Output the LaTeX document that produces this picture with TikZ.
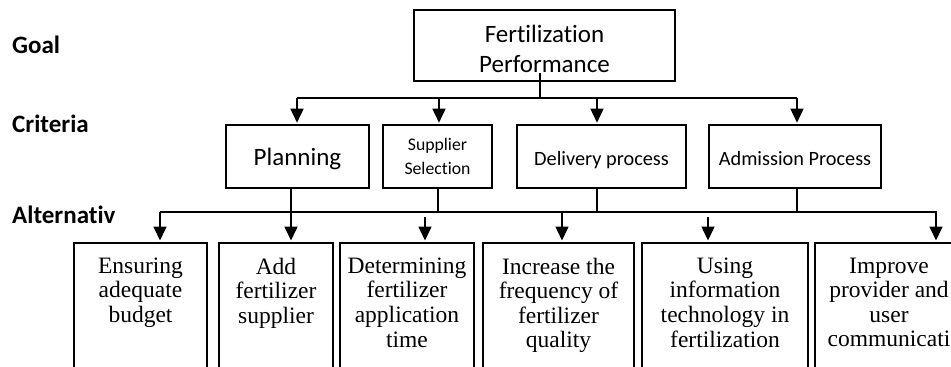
\documentclass[tikz,border=0pt]{standalone}
\usepackage{fontspec}
\setmainfont{Liberation Serif}
\newfontfamily\calib[Ligatures=NoCommon]{Carlito}
\usetikzlibrary{arrows.meta}
\tikzset{
  conn/.style={line width=1.6pt, draw=black},
  arr/.style={conn, -{Triangle[length=14pt,width=13pt]}, shorten >=1.5pt},
  boxst/.style={draw=black, line width=1.6pt, rectangle, inner sep=0pt},
  critbox/.style={boxst, minimum height=63pt, font=\calib\fontsize{20.3}{24}\selectfont, text height=18pt, text depth=0pt},
  altbox/.style={boxst, anchor=north, minimum height=140pt},
  alttext/.style={anchor=north, align=center, inner sep=0pt, font=\fontsize{23.5}{24.6}\selectfont},
  levellabel/.style={anchor=base west, inner sep=0pt, font=\calib\bfseries\fontsize{25}{30}\selectfont},
}
\begin{document}
\begin{tikzpicture}[x=1pt,y=-1pt]
\useasboundingbox (0,0) rectangle (951,367);
\clip (0,0) rectangle (951,367);
\fill[white] (0,0) rectangle (951,367);

% level labels
\node[levellabel] (lgoal) at (12,53) {Goal};
\node[levellabel] (lcrit) at (12,132) {Criteria};
\node[levellabel] (lalt) at (12,223) {Alternativ};

% goal
\node[boxst, minimum width=261pt, minimum height=71pt, align=center,
      font=\calib\fontsize{25}{30}\selectfont] (goal) at (544.5,45.5)
      {\rule{0pt}{25pt}Fertilization\\Performance};

% criteria
\node[critbox, minimum width=143pt, font=\calib\fontsize{25}{30}\selectfont] (plan) at (297.5,156.5) {Planning};
\node[boxst, minimum width=109pt, minimum height=63pt, align=center,
      font=\calib\fontsize{17.7}{24}\selectfont] (supp) at (437.5,156.5) {Supplier\\Selection};
\node[critbox, minimum width=169pt] (deliv) at (601.5,156.5) {Delivery process};
\node[critbox, minimum width=172pt] (admis) at (795,156.5) {Admission Process};

% alternatives boxes
\node[altbox, minimum width=133pt] (alt1) at (140.5,242) {};
\node[altbox, minimum width=114pt] (alt2) at (276,242) {};
\node[altbox, minimum width=134pt] (alt3) at (407,242) {};
\node[altbox, minimum width=151pt] (alt4) at (558.5,242) {};
\node[altbox, minimum width=166pt] (alt5) at (725,242) {};
\node[altbox, minimum width=150pt] (alt6) at (890,242) {};

\node[alttext] (t1) at ([yshift=-15.5pt]alt1.north) {Ensuring\\adequate\\budget};
\node[alttext] (t2) at ([yshift=-15.5pt]alt2.north) {Add\\fertilizer\\supplier};
\node[alttext] (t3) at ([yshift=-15.5pt]alt3.north) {Determining\\fertilizer\\application\\time};
\node[alttext] (t4) at ([yshift=-15.5pt]alt4.north) {Increase the\\frequency of\\fertilizer\\quality};
\node[alttext] (t5) at ([yshift=-15.5pt]alt5.north) {Using\\information\\technology in\\fertilization};
\node[alttext] (t6) at ([yshift=-15.5pt,xshift=-1pt]alt6.north) {Improve\\provider and\\user\\communicati};

% goal -> criteria
\coordinate (gj) at (540,98);
\coordinate (g1) at (297,98);
\coordinate (g2) at (439,98);
\coordinate (g3) at (597,98);
\coordinate (g4) at (797,98);
\draw[conn] ([yshift=9pt]goal.south -| gj) -- (gj);
\draw[conn] (g1) -- (g4);
\draw[arr] (g1) -- (g1 |- plan.north);
\draw[arr] (g2) -- (g2 |- supp.north);
\draw[arr] (g3) -- (g3 |- deliv.north);
\draw[arr] (g4) -- (g4 |- admis.north);

% criteria -> alternatives
\coordinate (b1) at (160,212);
\coordinate (b2) at (291,212);
\coordinate (bs) at (438,212);
\coordinate (bd) at (597,212);
\coordinate (ba) at (797,212);
\coordinate (b3) at (425,217);
\coordinate (b4) at (562,212);
\coordinate (b5) at (708,217);
\coordinate (b6) at (936,212);
\draw[arr] (b2 |- plan.south) -- (b2 |- alt2.north);
\draw[conn] (bs |- supp.south) -- (bs);
\draw[conn] (bd |- deliv.south) -- (bd);
\draw[conn] (ba |- admis.south) -- (ba);
\draw[arr] (b1) -- (b6) -- (b6 |- alt6.north);
\draw[arr] (b1) -- (b1 |- alt1.north);
\draw[arr] (b3) -- (b3 |- alt3.north);
\draw[arr] (b4) -- (b4 |- alt4.north);
\draw[arr] (b5) -- (b5 |- alt5.north);
\end{tikzpicture}
\end{document}
